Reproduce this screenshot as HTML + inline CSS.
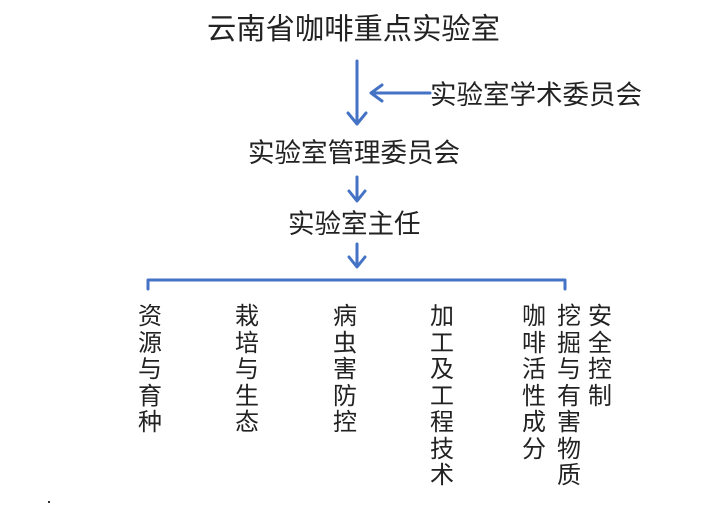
<!DOCTYPE html>
<html><head><meta charset="utf-8"><style>
body{margin:0;width:719px;height:511px;background:#fff;position:relative;overflow:hidden;font-family:"Liberation Sans","Noto Sans CJK SC",sans-serif;color:#222}
.t{position:absolute;white-space:nowrap;line-height:1}
.v{position:absolute;width:26px;font-size:24px;line-height:26.5px;text-align:center;top:304px}
</style></head><body>
<div class="t" style="left:207px;top:15px;font-size:29.3px">云南省咖啡重点实验室</div>
<div class="t" style="left:430px;top:82px;font-size:26.5px">实验室学术委员会</div>
<div class="t" style="left:248px;top:140px;font-size:26.5px">实验室管理委员会</div>
<div class="t" style="left:288px;top:211px;font-size:26.5px">实验室主任</div>
<svg width="719" height="511" style="position:absolute;left:0;top:0" fill="none" stroke="#4472C4" stroke-width="3" stroke-linecap="round" stroke-linejoin="round">
<line x1="357" y1="61" x2="357" y2="123"/><polyline points="348,113 357,124 366,113"/>
<line x1="430" y1="93" x2="372" y2="93"/><polyline points="382,85 371,93 382,101"/>
<line x1="357" y1="177" x2="357" y2="200"/><polyline points="349,191 357,201 365,191"/>
<line x1="357" y1="244" x2="357" y2="266"/><polyline points="349,257 357,267 365,257"/>
<polyline points="148,289 148,280 565,280 565,289"/>
</svg>
<div class="v" style="left:137px">资源与育种</div>
<div class="v" style="left:234px">栽培与生态</div>
<div class="v" style="left:332px">病虫害防控</div>
<div class="v" style="left:429px">加工及工程技术</div>
<div class="v" style="left:521px">咖啡活性成分</div>
<div class="v" style="left:556px">挖掘与有害物质</div>
<div class="v" style="left:587px">安全控制</div>
<div style="position:absolute;left:48px;top:501px;width:2px;height:2px;background:#333"></div>
</body></html>
